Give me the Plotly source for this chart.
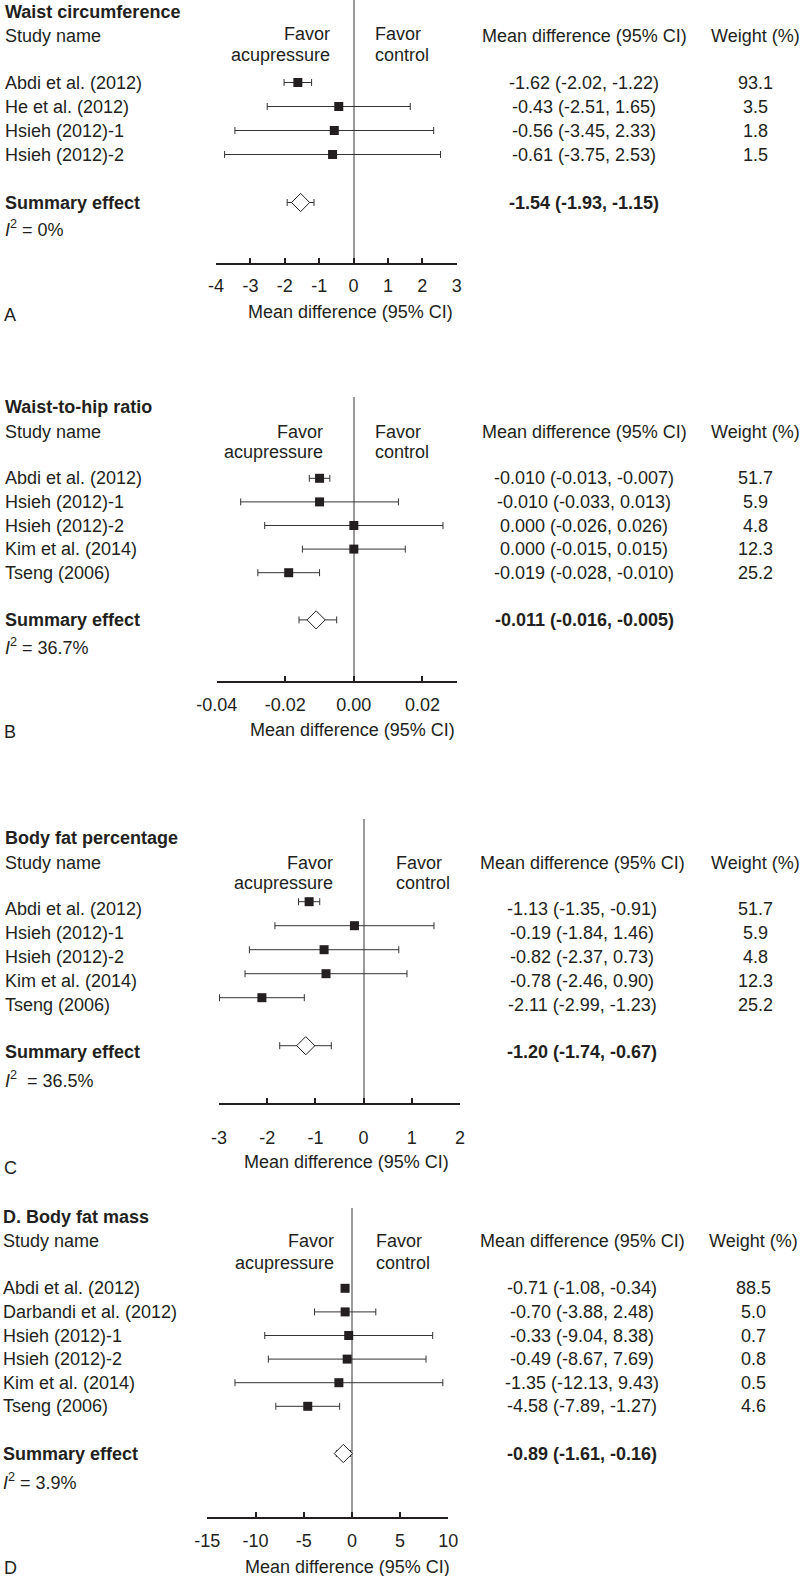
import plotly.graph_objects as go

W, H = 800, 1576
TXT = "#231f20"
FONT = "Liberation Sans, Arial, sans-serif"

# ---------------- data ----------------
# Panel A: Waist circumference
A_names = ["Abdi et al. (2012)", "He et al. (2012)", "Hsieh (2012)-1", "Hsieh (2012)-2"]
A_md = [-1.62, -0.43, -0.56, -0.61]
A_lo = [-2.02, -2.51, -3.45, -3.75]
A_hi = [-1.22, 1.65, 2.33, 2.53]
A_wt = [93.1, 3.5, 1.8, 1.5]
A_sum = [-1.54, -1.93, -1.15]
A_i2 = "0%"
A_ticks = [-4, -3, -2, -1, 0, 1, 2, 3]
A_ticklabels = ["-4", "-3", "-2", "-1", "0", "1", "2", "3"]

# Panel B: Waist-to-hip ratio
B_names = ["Abdi et al. (2012)", "Hsieh (2012)-1", "Hsieh (2012)-2", "Kim et al. (2014)", "Tseng (2006)"]
B_md = [-0.010, -0.010, 0.000, 0.000, -0.019]
B_lo = [-0.013, -0.033, -0.026, -0.015, -0.028]
B_hi = [-0.007, 0.013, 0.026, 0.015, -0.010]
B_wt = [51.7, 5.9, 4.8, 12.3, 25.2]
B_sum = [-0.011, -0.016, -0.005]
B_i2 = "36.7%"
B_ticks = [-0.04, -0.02, 0.00, 0.02]
B_ticklabels = ["-0.04", "-0.02", "0.00", "0.02"]

# Panel C: Body fat percentage
C_names = ["Abdi et al. (2012)", "Hsieh (2012)-1", "Hsieh (2012)-2", "Kim et al. (2014)", "Tseng (2006)"]
C_md = [-1.13, -0.19, -0.82, -0.78, -2.11]
C_lo = [-1.35, -1.84, -2.37, -2.46, -2.99]
C_hi = [-0.91, 1.46, 0.73, 0.90, -1.23]
C_wt = [51.7, 5.9, 4.8, 12.3, 25.2]
C_sum = [-1.20, -1.74, -0.67]
C_i2 = "36.5%"
C_ticks = [-3, -2, -1, 0, 1, 2]
C_ticklabels = ["-3", "-2", "-1", "0", "1", "2"]

# Panel D: Body fat mass
D_names = ["Abdi et al. (2012)", "Darbandi et al. (2012)", "Hsieh (2012)-1", "Hsieh (2012)-2",
           "Kim et al. (2014)", "Tseng (2006)"]
D_md = [-0.71, -0.70, -0.33, -0.49, -1.35, -4.58]
D_lo = [-1.08, -3.88, -9.04, -8.67, -12.13, -7.89]
D_hi = [-0.34, 2.48, 8.38, 7.69, 9.43, -1.27]
D_wt = [88.5, 5.0, 0.7, 0.8, 0.5, 4.6]
D_sum = [-0.89, -1.61, -0.16]
D_i2 = "3.9%"
D_ticks = [-15, -10, -5, 0, 5, 10]
D_ticklabels = ["-15", "-10", "-5", "0", "5", "10"]

# ---------------- layout geometry (pixels) ----------------
panels = [
    dict(title="Waist circumference", letter="A", names=A_names, md=A_md, lo=A_lo, hi=A_hi, wt=A_wt,
         sm=A_sum, i2=A_i2, ticks=A_ticks, tlabels=A_ticklabels, rng=[-4, 3], dec=2,
         x0=216, x1=456.7, top=0, axis=262.7, row0=82.5, step=24.0,
         xl=3, title_y=12, hdr_y=36, fav1=34, fav2=55, fav_r=332, ctl_l=373,
         mdc=584, wc=755.5, i2_y=228.7, i2_sep=" = ", at_x=245.5, at_y=312, let_y=315,
         standoff=6, lshift=0, sshift=0),
    dict(title="Waist-to-hip ratio", letter="B", names=B_names, md=B_md, lo=B_lo, hi=B_hi, wt=B_wt,
         sm=B_sum, i2=B_i2, ticks=B_ticks, tlabels=B_ticklabels, rng=[-0.04, 0.03], dec=3,
         x0=216.7, x1=456.7, top=396.7, axis=681, row0=478.3, step=23.6,
         xl=3, title_y=406.7, hdr_y=431.7, fav1=431.7, fav2=451.7, fav_r=325, ctl_l=372.7,
         mdc=584, wc=755.5, i2_y=646.7, i2_sep=" = ", at_x=248, at_y=730, let_y=731.7,
         standoff=6, lshift=0, sshift=0),
    dict(title="Body fat percentage", letter="C", names=C_names, md=C_md, lo=C_lo, hi=C_hi, wt=C_wt,
         sm=C_sum, i2=C_i2, ticks=C_ticks, tlabels=C_ticklabels, rng=[-3, 2], dec=2,
         x0=219, x1=460, top=819.3, axis=1103.3, row0=901.7, step=24.0,
         xl=3, title_y=838.3, hdr_y=862.7, fav1=862.7, fav2=883.3, fav_r=335, ctl_l=394,
         mdc=582, wc=755, i2_y=1079, i2_sep="&nbsp; = ", at_x=241.5, at_y=1161.5, let_y=1168,
         standoff=17, lshift=-7.5, sshift=-6),
    dict(title="D. Body fat mass", letter="D", names=D_names, md=D_md, lo=D_lo, hi=D_hi, wt=D_wt,
         sm=D_sum, i2=D_i2, ticks=D_ticks, tlabels=D_ticklabels, rng=[-15, 10], dec=2,
         x0=207.3, x1=448.3, top=1208.3, axis=1516.7, row0=1288.3, step=23.6,
         xl=1, title_y=1216.7, hdr_y=1241.3, fav1=1241, fav2=1262.7, fav_r=336, ctl_l=374,
         mdc=582, wc=753, i2_y=1481, i2_sep=" = ", at_x=243, at_y=1566.5, let_y=1567.5,
         standoff=7, lshift=0, sshift=0),
]


def xp(x):
    return x / W


def yp(y):
    return 1 - y / H


fig = go.Figure()
annotations = []
layout_axes = {}


def ann(text, x, y, xanchor="left", yref="paper", yshift=0, bold=False):
    annotations.append(dict(
        text=f"<b>{text}</b>" if bold else text, x=xp(x), y=y if yref != "paper" else yp(y),
        xref="paper", yref=yref, xanchor=xanchor, yanchor="middle", showarrow=False,
        yshift=yshift, font=dict(family=FONT, size=18, color=TXT)))


for i, p in enumerate(panels):
    n = i + 1
    xa = "x" if n == 1 else f"x{n}"
    ya = "y" if n == 1 else f"y{n}"
    rows = list(range(len(p["names"])))
    srow = len(rows) + 1
    fmt = "{:.%df}" % p["dec"]

    # studies
    fig.add_trace(go.Scatter(
        x=p["md"], y=rows, mode="markers", xaxis=xa, yaxis=ya, showlegend=False,
        marker=dict(symbol="square", size=9, color=TXT, line=dict(width=0)),
        error_x=dict(type="data", symmetric=False,
                     array=[h - m for m, h in zip(p["md"], p["hi"])],
                     arrayminus=[m - l for m, l in zip(p["md"], p["lo"])],
                     color="#333333", thickness=1, width=3.5),
        cliponaxis=False))
    # summary
    m, l, h = p["sm"]
    fig.add_trace(go.Scatter(
        x=[m], y=[srow], mode="markers", xaxis=xa, yaxis=ya, showlegend=False,
        marker=dict(symbol="diamond", size=14, color="white", line=dict(color=TXT, width=1)),
        error_x=dict(type="data", symmetric=False, array=[h - m], arrayminus=[m - l],
                     color="#333333", thickness=1, width=3.5),
        cliponaxis=False))

    layout_axes["xaxis" if n == 1 else f"xaxis{n}"] = dict(
        domain=[xp(p["x0"]), xp(p["x1"])], anchor=ya, range=p["rng"],
        tickmode="array", tickvals=p["ticks"], ticktext=p["tlabels"],
        ticks="inside", ticklen=5, tickwidth=2, tickcolor=TXT,
        showline=True, linewidth=2, linecolor=TXT, showgrid=False,
        zeroline=True, zerolinecolor="#9a9a9a", zerolinewidth=1.5,
        ticklabelstandoff=p["standoff"], automargin=False,
        tickfont=dict(family=FONT, size=18, color=TXT), fixedrange=True)
    r_bot = (p["axis"] - p["row0"]) / p["step"]
    r_top = (p["top"] - p["row0"]) / p["step"]
    layout_axes["yaxis" if n == 1 else f"yaxis{n}"] = dict(
        domain=[yp(p["axis"]), yp(p["top"])], anchor=xa, range=[r_bot, r_top],
        visible=False, showgrid=False, zeroline=False, fixedrange=True, automargin=False)

    # texts
    ann(p["title"], p["xl"], p["title_y"], bold=True)
    ann("Study name", p["xl"], p["hdr_y"])
    ann("Favor", p["fav_r"], p["fav1"], xanchor="right")
    ann("acupressure", p["fav_r"], p["fav2"], xanchor="right")
    ann("Favor", p["ctl_l"], p["fav1"])
    ann("control", p["ctl_l"], p["fav2"])
    ann("Mean difference (95% CI)", p["mdc"], p["hdr_y"], xanchor="center")
    ann("Weight (%)", p["wc"], p["hdr_y"], xanchor="center")
    for r, name, mm, ll, hh, w in zip(rows, p["names"], p["md"], p["lo"], p["hi"], p["wt"]):
        ann(name, p["xl"], r, yref=ya, yshift=p["lshift"])
        ann(f"{fmt.format(mm)} ({fmt.format(ll)}, {fmt.format(hh)})", p["mdc"], r,
            xanchor="center", yref=ya, yshift=p["lshift"])
        ann(f"{w:.1f}", p["wc"], r, xanchor="center", yref=ya, yshift=p["lshift"])
    ann("Summary effect", p["xl"], srow, yref=ya, yshift=p["sshift"], bold=True)
    ann(f"{fmt.format(m)} ({fmt.format(l)}, {fmt.format(h)})", p["mdc"], srow,
        xanchor="center", yref=ya, yshift=p["sshift"], bold=True)
    ann(f"<i>I</i><sup>2</sup>{p['i2_sep']}{p['i2']}", p["xl"], p["i2_y"])
    ann("Mean difference (95% CI)", p["at_x"], p["at_y"])
    ann(p["letter"], 2, p["let_y"])

fig.update_layout(
    width=W, height=H, autosize=False,
    margin=dict(l=0, r=0, t=0, b=0, pad=0, autoexpand=False),
    paper_bgcolor="white", plot_bgcolor="white",
    font=dict(family=FONT, size=18, color=TXT),
    annotations=annotations, showlegend=False,
    **layout_axes)

fig.write_html("out.html", config=dict(displayModeBar=False),
               post_script="document.body.style.margin='0px';document.body.style.overflow='hidden';")
